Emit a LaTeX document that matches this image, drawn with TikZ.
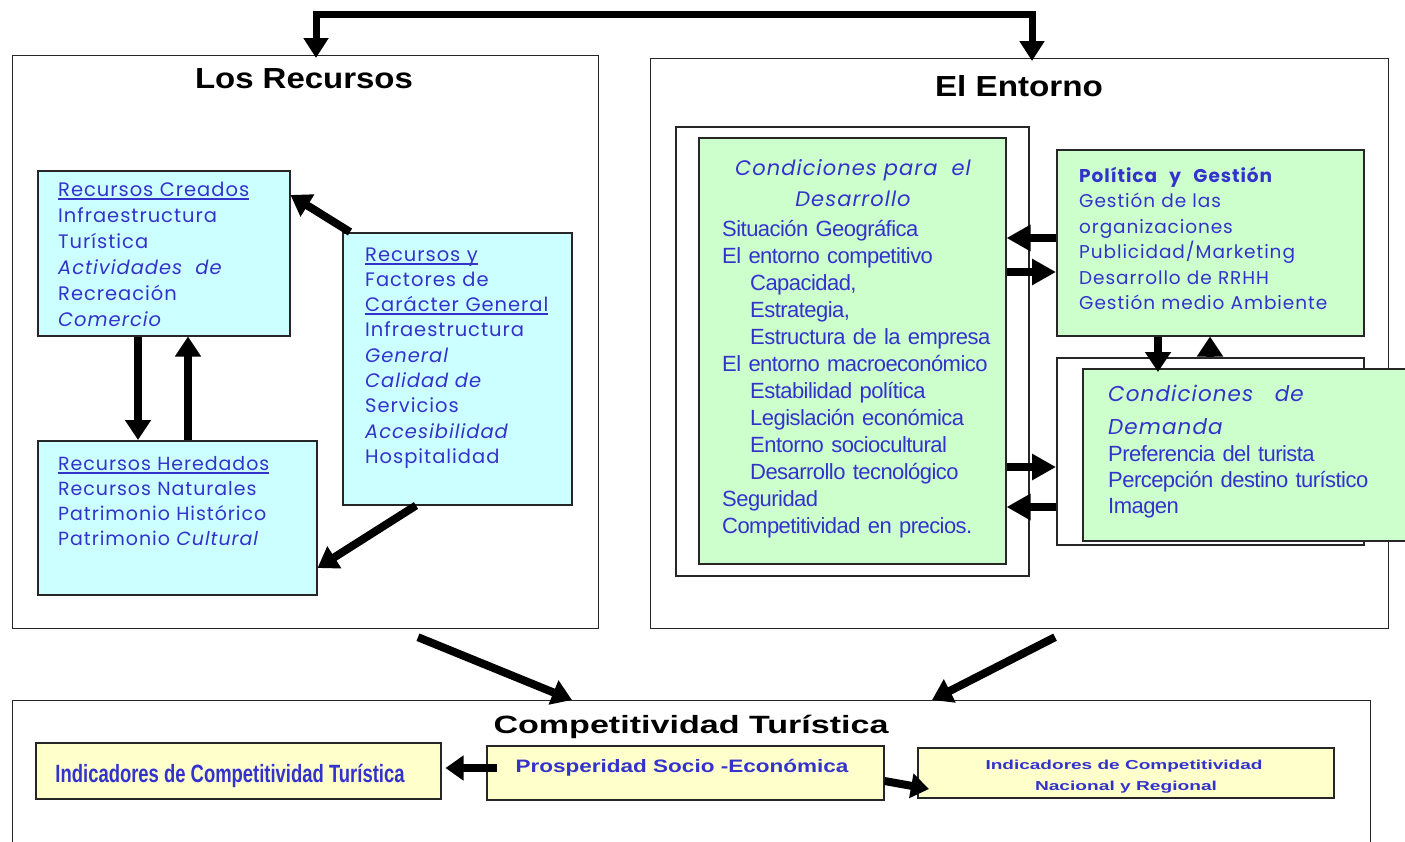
\documentclass[tikz,border=0pt]{standalone}
\usepackage{fontspec}
\setmainfont{Liberation Sans}
\newfontfamily\comic[LetterSpace=5]{Poppins}
\newfontfamily\arialt[LetterSpace=-2.5]{Liberation Sans}
\usepackage{graphicx}
\usetikzlibrary{arrows.meta,calc}
\definecolor{txtblue}{RGB}{51,51,204}
\definecolor{cyanfill}{RGB}{204,255,255}
\definecolor{greenfill}{RGB}{204,255,204}
\definecolor{yellowfill}{RGB}{255,255,204}
\newsavebox\ulbox
\newcommand\myul[1]{\leavevmode\sbox\ulbox{#1}\rlap{\rule[-3.5pt]{\wd\ulbox}{1.7pt}}\usebox\ulbox}
\tikzset{
  frame/.style={draw=black!85, line width=1.2pt, inner sep=0pt, anchor=north west},
  cbox/.style={frame, fill=cyanfill, line width=1.5pt},
  gbox/.style={frame, fill=greenfill, line width=1.5pt},
  ybox/.style={frame, fill=yellowfill, line width=1.5pt},
  wbox/.style={frame, fill=white, line width=1.5pt},
  ctext/.style={inner sep=0pt, anchor=base west, align=left, text=txtblue,
    font=\comic\fontsize{19.5}{26}\selectfont},
  atext/.style={inner sep=0pt, anchor=base west, align=left, text=txtblue,
    font=\arialt\fontsize{22}{27}\selectfont},
  title/.style={inner sep=0pt, anchor=base, font=\bfseries\fontsize{29}{29}\selectfont},
  btext/.style={inner sep=0pt, anchor=base, text=txtblue, font=\bfseries},
  bigarrow/.style={line width=8pt, -{Triangle[length=20pt,width=25pt]}},
  midarrow/.style={line width=8pt, -{Triangle[length=24pt,width=25pt]}},
}
\begin{document}
\begin{tikzpicture}[x=1pt,y=-1pt]
\useasboundingbox (0,0) rectangle (1405,841);
% outer frames
\node[frame, minimum width=586pt, minimum height=573pt] (rec) at (12,55) {};
\node[frame, minimum width=738pt, minimum height=570pt] (ent) at (650,58) {};
\node[frame, minimum width=1358pt, minimum height=160pt] (comp) at (12,700) {};
% titles
\node[title] (recT) at (304,88) {\resizebox{218pt}{\height}{Los Recursos}};
\node[title] (entT) at (1019,96) {\resizebox{168pt}{\height}{El Entorno}};
\node[title, font=\bfseries\fontsize{25}{25}\selectfont] (compT) at (691,733) {\resizebox{395pt}{\height}{Competitividad Turística}};
% top connector
\coordinate (topL) at (316,14);
\coordinate (topR) at (1032,14);
\draw[line width=7pt, line join=miter, {Triangle[length=20pt,width=24pt]}-{Triangle[length=20pt,width=24pt]}]
  ([yshift=-3pt]rec.north -| topL) -- (topL) -- (topR) -- ([yshift=-3pt]ent.north -| topR);

% ---- Los Recursos ----
\node[cbox, minimum width=252pt, minimum height=165pt] (creados) at (37,170) {};
\node[cbox, minimum width=279pt, minimum height=154pt] (hered) at (37,440) {};
\node[cbox, minimum width=229pt, minimum height=272pt] (fact) at (342,232) {};
\node[ctext, text width=235pt] (creadosT) at (58,196)
  {\myul{Recursos Creados}\\ Infraestructura\\ Turística\\ \textit{Actividades\ \ de}\\ Recreación\\ \textit{Comercio}};
\node[ctext, text width=255pt, font=\comic\fontsize{19}{25}\selectfont] (heredT) at (58,470)
  {\myul{Recursos Heredados}\\ Recursos Naturales\\ Patrimonio Histórico\\ Patrimonio \textit{Cultural}};
\node[ctext, text width=205pt, font=\comic\fontsize{19.5}{25.3}\selectfont] (factT) at (365,261)
  {\myul{Recursos y}\\ Factores de\\ \myul{Carácter General}\\ Infraestructura\\ \textit{General}\\ \textit{Calidad de}\\ Servicios\\ \textit{Accesibilidad}\\ Hospitalidad};
\draw[bigarrow] ([xshift=8pt]fact.north west) -- (creados.east |- 0,195);
\draw[bigarrow] ([xshift=74pt]fact.south west) -- (hered.east |- 0,568);
\draw[bigarrow] (creados.south -| 138,0) -- (hered.north -| 138,0);
\draw[bigarrow] (hered.north -| 188,0) -- (creados.south -| 188,0);

% ---- El Entorno ----
\node[wbox, minimum width=353pt, minimum height=449pt] (condbg) at (675,126) {};
\node[gbox, minimum width=307pt, minimum height=426pt] (cond) at (698,137) {};
\node[gbox, minimum width=307pt, minimum height=186pt] (pol) at (1056,149) {};
\node[wbox, minimum width=307pt, minimum height=187pt] (dembg) at (1056,357) {};
\node[gbox, minimum width=330pt, minimum height=172pt] (dem) at (1082,368) {};
\node[inner sep=0pt, anchor=base, text=txtblue, text width=300pt, align=center, font=\comic\itshape\fontsize{21}{31}\selectfont] (condH) at (853,175)
  {Condiciones para \ el\\ Desarrollo};
\node[atext, text width=300pt] (condT) at (722,236)
  {Situación Geográfica\\ El entorno competitivo\\
   \hspace*{28pt}Capacidad,\\ \hspace*{28pt}Estrategia,\\ \hspace*{28pt}Estructura de la empresa\\
   El entorno macroeconómico\\
   \hspace*{28pt}Estabilidad política\\ \hspace*{28pt}Legislación económica\\
   \hspace*{28pt}Entorno sociocultural\\ \hspace*{28pt}Desarrollo tecnológico\\
   Seguridad\\ Competitividad en precios.};
\node[ctext, text width=280pt, font=\comic\fontsize{18.5}{25.5}\selectfont] (polT) at (1079,182)
  {\textbf{Política\ \ y\ \ Gestión}\\ Gestión de las\\ organizaciones\\ Publicidad/Marketing\\ Desarrollo de RRHH\\ Gestión medio Ambiente};
\node[ctext, text width=280pt, font=\comic\itshape\fontsize{21.5}{33}\selectfont] (demH) at (1108,401)
  {Condiciones\ \ \ de\\ Demanda};
\node[atext, text width=290pt, font=\arialt\fontsize{22}{26}\selectfont] (demT) at (1108,461)
  {Preferencia del turista\\ Percepción destino turístico\\ Imagen};
\draw[midarrow] (pol.west |- 0,238) -- (cond.east |- 0,238);
\draw[midarrow] (cond.east |- 0,272) -- (pol.west |- 0,272);
\draw[midarrow] (cond.east |- 0,467) -- (dembg.west |- 0,467);
\draw[midarrow] (dembg.west |- 0,507) -- (cond.east |- 0,507);
\draw[bigarrow] (pol.south -| 1158,0) -- ([yshift=-4pt]dem.north -| 1158,0);
\draw[bigarrow] (dembg.north -| 1210,0) -- (pol.south -| 1210,0);

% ---- Competitividad ----
\draw[bigarrow] ([xshift=406pt,yshift=-8pt]rec.south west) -- (comp.north -| 572,0);
\draw[bigarrow] ([xshift=405pt,yshift=-8pt]ent.south west) -- (comp.north -| 932,0);
\node[ybox, minimum width=405pt, minimum height=56pt] (indL) at (35,742) {};
\node[ybox, minimum width=397pt, minimum height=54pt] (pros) at (486,745) {};
\node[ybox, minimum width=416pt, minimum height=50pt] (indR) at (917,747) {};
\node[btext, font=\bfseries\fontsize{25}{25}\selectfont] (indLT) at (230,782)
  {\resizebox{349pt}{\height}{Indicadores de Competitividad Turística}};
\node[btext, font=\bfseries\fontsize{18}{18}\selectfont] (prosT) at (682,772)
  {\resizebox{333pt}{\height}{Prosperidad Socio -Económica}};
\node[btext, font=\bfseries\fontsize{13}{13}\selectfont] (indRT1) at (1124,769)
  {\resizebox{277pt}{\height}{Indicadores de Competitividad}};
\node[btext, font=\bfseries\fontsize{13}{13}\selectfont] (indRT2) at (1126,790)
  {\resizebox{182pt}{\height}{Nacional y Regional}};
\draw[line width=8pt, -{Triangle[length=18pt,width=24pt]}] ([xshift=11pt]pros.west |- 0,768) -- ([xshift=4pt]indL.east |- 0,768);
\draw[line width=8pt, -{Triangle[length=18pt,width=24pt]}] (pros.east |- 0,781) -- ([xshift=12pt]indR.west |- 0,789);
\end{tikzpicture}
\end{document}
